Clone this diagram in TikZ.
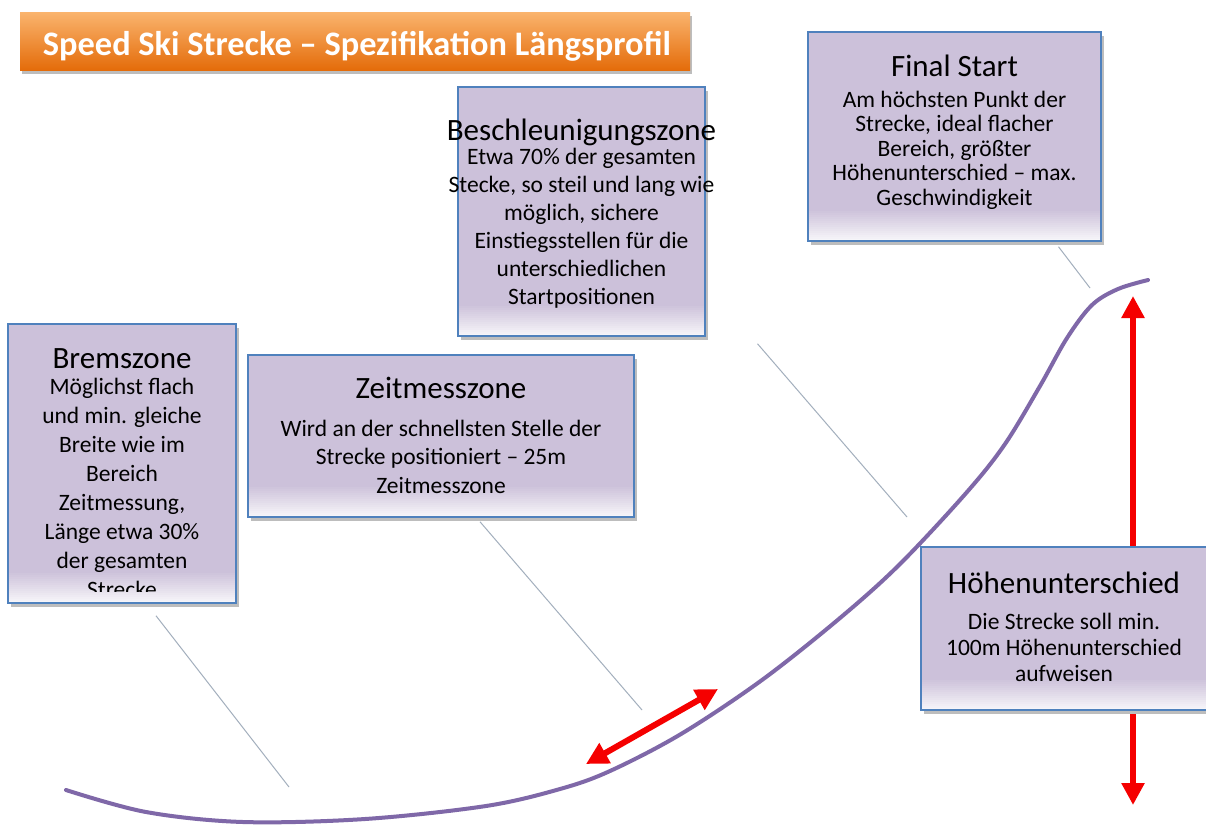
\documentclass[tikz,border=0pt]{standalone}
\usepackage{fontspec}
\setmainfont{Carlito}
\usetikzlibrary{arrows.meta,shadows}
\definecolor{boxfill}{HTML}{CCC1DA}
\definecolor{boxline}{HTML}{4F81BD}
\definecolor{curvecol}{HTML}{7F68A8}
\definecolor{arrowred}{HTML}{F50000}
\definecolor{leadcol}{HTML}{A3AFBD}
\definecolor{orangetop}{HTML}{FAB46E}
\definecolor{orangebot}{HTML}{E46C0A}
\definecolor{shadowcol}{HTML}{BDBDBD}
\newcommand\ttlfont{\fontsize{31}{36}\selectfont}
\newcommand\bdyfont[1]{\fontsize{23.5}{#1}\selectfont}
\begin{document}
\begin{tikzpicture}[x=1pt,y=-1pt,
  zbox/.style={draw=boxline, line width=1.5pt, fill=boxfill, inner sep=0pt,
    drop shadow={shadow xshift=3pt, shadow yshift=-4pt, fill=shadowcol, opacity=1},
    path picture={\foreach \i [evaluate=\i as \p using {int(100-5.5*\i)}, evaluate=\i as \ha using {32-2*\i}, evaluate=\i as \hb using {29.6-2*\i}] in {0,...,15}{
        \fill[boxfill!\p!white] ([yshift=\ha pt]path picture bounding box.south west) rectangle ([yshift=\hb pt]path picture bounding box.south east);}}},
  ttl/.style={font=\ttlfont, anchor=base, inner sep=0pt},
  bdy/.style={anchor=base, align=center, inner sep=0pt},
  lead/.style={draw=leadcol, line width=1pt},
  redarrow/.style={draw=arrowred, line width=6pt, {Triangle[length=22pt,width=22pt]}-{Triangle[length=22pt,width=22pt]}},
]
\useasboundingbox (0,0) rectangle (1206,827);
\fill[white] (0,0) rectangle (1206,827);

% title banner
\node[minimum width=670pt, minimum height=58pt, inner sep=0pt,
  top color=orangetop, bottom color=orangebot,
  drop shadow={shadow xshift=2pt, shadow yshift=-4pt, fill=shadowcol, opacity=1}]
  (title) at (355,41) {};
\node[font=\fontsize{34}{40}\selectfont\bfseries, text=white, anchor=base, inner sep=0pt]
  (titletext) at (357,55) {\resizebox{628pt}{!}{Speed Ski Strecke -- Spezifikation Längsprofil}};

% profile curve
\draw[curvecol, line width=4pt, line cap=round]
  plot[smooth, tension=0.55] coordinates {(66,790) (146,812) (243,822) (365,819) (486,806) (560,789) (610,771) (681,734) (762,680) (840,618) (900,564) (967,492) (1005,444) (1040,386) (1067,338) (1092,305) (1118,289) (1148,280)};

% boxes
\node[zbox, minimum width=228pt, minimum height=279pt] (brems) at (122,463.5) {};
\node[zbox, minimum width=386pt, minimum height=162pt] (zeit) at (441,436) {};
\node[zbox, minimum width=247pt, minimum height=249pt] (besch) at (581.5,211.5) {};
\node[zbox, minimum width=293pt, minimum height=209pt] (final) at (954.5,136.5) {};

% leader lines
\coordinate (lb) at (289,787);
\coordinate (lz) at (642,710);
\coordinate (lc) at (907,517);
\coordinate (lf) at (1090,288);
\draw[lead] ([xshift=34pt,yshift=-12pt]brems.south) -- (lb);
\draw[lead] ([xshift=39pt,yshift=-4pt]zeit.south) -- (lz);
\draw[lead] ([xshift=176pt,yshift=-7pt]besch.south) -- (lc);
\draw[lead] ([xshift=104pt,yshift=-5pt]final.south) -- (lf);

% red arrows
\coordinate (da) at (586,764);
\coordinate (db) at (718,689);
\draw[redarrow] (da) -- (db);
\coordinate (va) at (1133,296);
\coordinate (vb) at (1133,805);
\draw[redarrow] (va) -- (vb);

\node[zbox, minimum width=290pt, minimum height=163pt] (hoehe) at (1066,628.5) {};

% texts (base anchor of a multi-line node = baseline of its last line)
\node[ttl] (bremsT) at (122,368) {Bremszone};
\begin{scope}
\clip (9,325) rectangle (235,591);
\node[bdy, font=\bdyfont{29}] (bremsB) at (122,597) {Möglichst flach\\und min. gleiche\\Breite wie im\\Bereich\\Zeitmessung,\\Länge etwa 30\%\\der gesamten\\Strecke};
\end{scope}
\node[ttl] (zeitT) at (441,398) {Zeitmesszone};
\node[bdy, font=\bdyfont{28.5}] (zeitB) at (441,493) {Wird an der schnellsten Stelle der\\Strecke positioniert -- 25m\\Zeitmesszone};
\node[ttl] (beschT) at (581.5,140) {Beschleunigungszone};
\node[bdy, font=\bdyfont{28}] (beschB) at (581.5,304) {Etwa 70\% der gesamten\\Stecke, so steil und lang wie\\möglich, sichere\\Einstiegsstellen für die\\unterschiedlichen\\Startpositionen};
\node[ttl] (finalT) at (954.5,76) {Final Start};
\node[bdy, font=\bdyfont{24.5}] (finalB) at (954.5,205) {Am höchsten Punkt der\\Strecke, ideal flacher\\Bereich, größter\\Höhenunterschied -- max.\\Geschwindigkeit};
\node[ttl] (hoeheT) at (1064,593) {Höhenunterschied};
\node[bdy, font=\bdyfont{26}] (hoeheB) at (1064,681) {Die Strecke soll min.\\100m Höhenunterschied\\aufweisen};
\end{tikzpicture}
\end{document}
